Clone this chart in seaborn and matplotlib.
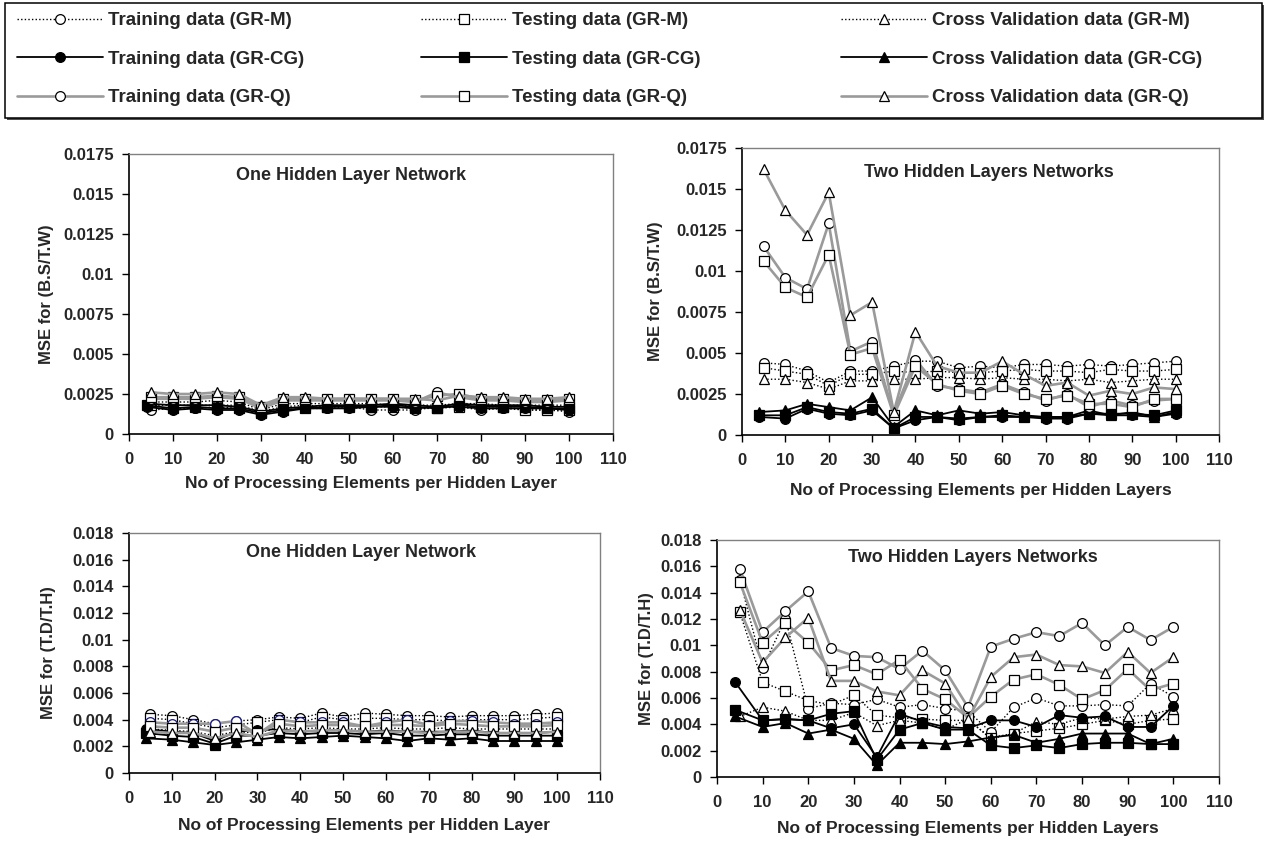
import numpy as np
import pandas as pd
import matplotlib
matplotlib.use("Agg")
import matplotlib.pyplot as plt
from matplotlib.lines import Line2D
from matplotlib.patches import Rectangle
from matplotlib.ticker import FuncFormatter
import seaborn as sns

sns.set_theme(style="white")
plt.rcParams['font.family'] = ['Liberation Sans', 'DejaVu Sans']
plt.rcParams['font.weight'] = 'bold'

# ---------------- data ----------------
x_pe = [5, 10, 15, 20, 25, 30, 35, 40, 45, 50, 55, 60, 65, 70, 75, 80, 85, 90, 95, 100]
x_cg = [4, 10, 15, 20, 25, 30, 35, 40, 45, 50, 55, 60, 65, 70, 75, 80, 85, 90, 95, 100]

series_labels = [
    "Training data (GR-M)", "Testing data (GR-M)", "Cross Validation data (GR-M)",
    "Training data (GR-CG)", "Testing data (GR-CG)", "Cross Validation data (GR-CG)",
    "Training data (GR-Q)", "Testing data (GR-Q)", "Cross Validation data (GR-Q)",
]

# Panel A: one hidden layer, B.S/T.W
a_m_train = [0.0015,0.0016,0.0016,0.0017,0.0016,0.0013,0.0015,0.0016,0.0016,0.0017,0.0015,0.0015,0.0015,0.0017,0.0017,0.0015,0.0016,0.0015,0.0015,0.0014]
a_m_test  = [0.0018,0.0018,0.0018,0.0018,0.0018,0.0014,0.0017,0.0018,0.0017,0.0018,0.0017,0.0017,0.0016,0.0016,0.0017,0.0017,0.0017,0.0015,0.0015,0.0015]
a_m_cv    = [0.0020,0.0020,0.0020,0.0021,0.0020,0.0015,0.0019,0.0019,0.0019,0.0019,0.0019,0.0018,0.0018,0.0018,0.0019,0.0019,0.0018,0.0018,0.0018,0.0018]
a_cg_train= [0.0017,0.0015,0.0016,0.0015,0.0015,0.0012,0.0014,0.0016,0.0016,0.0016,0.0017,0.0017,0.0016,0.0017,0.0017,0.0016,0.0016,0.0016,0.0016,0.0015]
a_cg_test = [0.0018,0.0016,0.0017,0.0016,0.0016,0.0013,0.0015,0.0016,0.0017,0.0017,0.0017,0.0018,0.0017,0.0016,0.0018,0.0017,0.0017,0.0017,0.0016,0.0016]
a_cg_cv   = [0.0019,0.0018,0.0018,0.0018,0.0017,0.0014,0.0016,0.0017,0.0018,0.0018,0.0018,0.0019,0.0018,0.0017,0.0019,0.0018,0.0018,0.0018,0.0017,0.0017]
a_q_train = [0.0022,0.0022,0.0022,0.0023,0.0022,0.0016,0.0021,0.0021,0.0021,0.0021,0.0021,0.0021,0.0020,0.0026,0.0023,0.0021,0.0021,0.0020,0.0020,0.0021]
a_q_test  = [0.0023,0.0023,0.0023,0.0024,0.0023,0.0017,0.0022,0.0022,0.0022,0.0022,0.0022,0.0022,0.0021,0.0024,0.0025,0.0022,0.0022,0.0021,0.0021,0.0022]
a_q_cv    = [0.0026,0.0025,0.0025,0.0026,0.0025,0.0018,0.0023,0.0023,0.0022,0.0022,0.0022,0.0022,0.0022,0.0021,0.0024,0.0023,0.0023,0.0022,0.0022,0.0023]

# Panel B: two hidden layers, B.S/T.W
b_m_train = [0.0044,0.0043,0.0039,0.0032,0.0039,0.0039,0.0042,0.0045,0.0045,0.0041,0.0042,0.0041,0.0043,0.0043,0.0042,0.0043,0.0042,0.0043,0.0044,0.0045]
b_m_test  = [0.0041,0.0039,0.0037,0.0030,0.0037,0.0037,0.0039,0.0038,0.0039,0.0038,0.0038,0.0039,0.0040,0.0039,0.0039,0.0038,0.0040,0.0039,0.0039,0.0040]
b_m_cv    = [0.0034,0.0034,0.0032,0.0028,0.0033,0.0033,0.0034,0.0034,0.0035,0.0035,0.0034,0.0035,0.0034,0.0034,0.0033,0.0034,0.0032,0.0033,0.0034,0.0034]
b_cg_train= [0.0011,0.0010,0.0016,0.0013,0.0012,0.0015,0.0004,0.0009,0.0011,0.0009,0.0011,0.0011,0.0011,0.0010,0.0010,0.0013,0.0012,0.0012,0.0011,0.0013]
b_cg_test = [0.0012,0.0012,0.0017,0.0014,0.0013,0.0016,0.0004,0.0011,0.0011,0.0010,0.0011,0.0012,0.0011,0.0011,0.0011,0.0013,0.0013,0.0013,0.0012,0.0015]
b_cg_cv   = [0.0014,0.0015,0.0019,0.0017,0.0015,0.0023,0.0005,0.0015,0.0012,0.0015,0.0013,0.0014,0.0012,0.0011,0.0011,0.0015,0.0012,0.0014,0.0011,0.0014]
b_q_train = [0.0115,0.0096,0.0089,0.0129,0.0051,0.0057,0.0013,0.0046,0.0030,0.0028,0.0026,0.0031,0.0026,0.0021,0.0025,0.0017,0.0021,0.0018,0.0021,0.0022]
b_q_test  = [0.0106,0.0090,0.0084,0.0110,0.0049,0.0053,0.0012,0.0042,0.0031,0.0027,0.0025,0.0030,0.0025,0.0022,0.0024,0.0019,0.0019,0.0017,0.0022,0.0022]
b_q_cv    = [0.0162,0.0137,0.0122,0.0148,0.0073,0.0081,0.0014,0.0063,0.0042,0.0038,0.0038,0.0045,0.0037,0.0030,0.0032,0.0024,0.0027,0.0025,0.0029,0.0028]

# Panel C: one hidden layer, T.D/T.H
c_m_train = [0.0044,0.0043,0.0040,0.0037,0.0039,0.0040,0.0042,0.0041,0.0045,0.0042,0.0045,0.0044,0.0043,0.0043,0.0042,0.0043,0.0043,0.0043,0.0044,0.0045]
c_m_test  = [0.0041,0.0040,0.0037,0.0034,0.0036,0.0038,0.0040,0.0038,0.0042,0.0040,0.0041,0.0041,0.0040,0.0040,0.0039,0.0040,0.0040,0.0040,0.0041,0.0042]
c_m_cv    = [0.0033,0.0032,0.0031,0.0028,0.0031,0.0030,0.0034,0.0033,0.0034,0.0033,0.0033,0.0034,0.0033,0.0033,0.0034,0.0033,0.0033,0.0033,0.0033,0.0033]
c_cg_train= [0.0033,0.0031,0.0030,0.0024,0.0031,0.0032,0.0033,0.0031,0.0032,0.0032,0.0031,0.0032,0.0031,0.0031,0.0031,0.0032,0.0030,0.0030,0.0030,0.0031]
c_cg_test = [0.0030,0.0028,0.0027,0.0022,0.0028,0.0028,0.0030,0.0029,0.0030,0.0030,0.0029,0.0030,0.0028,0.0028,0.0029,0.0029,0.0028,0.0028,0.0028,0.0028]
c_cg_cv   = [0.0026,0.0025,0.0023,0.0021,0.0023,0.0025,0.0027,0.0026,0.0027,0.0028,0.0027,0.0026,0.0024,0.0026,0.0025,0.0026,0.0024,0.0024,0.0024,0.0024]
c_q_train = [0.0038,0.0037,0.0037,0.0037,0.0039,0.0029,0.0040,0.0038,0.0038,0.0038,0.0035,0.0038,0.0040,0.0036,0.0039,0.0039,0.0038,0.0037,0.0037,0.0038]
c_q_test  = [0.0035,0.0034,0.0034,0.0031,0.0034,0.0030,0.0037,0.0035,0.0036,0.0036,0.0035,0.0036,0.0036,0.0035,0.0037,0.0036,0.0035,0.0035,0.0035,0.0036]
c_q_cv    = [0.0031,0.0030,0.0030,0.0026,0.0030,0.0027,0.0032,0.0031,0.0032,0.0032,0.0031,0.0031,0.0031,0.0030,0.0031,0.0031,0.0030,0.0030,0.0030,0.0031]

# Panel D: two hidden layers, T.D/T.H
d_m_train = [0.0150,0.0083,0.0120,0.0052,0.0056,0.0055,0.0059,0.0053,0.0055,0.0052,0.0050,0.0034,0.0053,0.0060,0.0054,0.0054,0.0055,0.0054,0.0071,0.0061]
d_m_test  = [0.0125,0.0072,0.0065,0.0058,0.0055,0.0062,0.0047,0.0045,0.0044,0.0043,0.0043,0.0030,0.0033,0.0035,0.0037,0.0040,0.0043,0.0040,0.0043,0.0044]
d_m_cv    = [0.0046,0.0053,0.0050,0.0043,0.0043,0.0049,0.0039,0.0043,0.0041,0.0036,0.0044,0.0029,0.0033,0.0042,0.0040,0.0045,0.0044,0.0046,0.0047,0.0052]
d_cg_train= [0.0072,0.0043,0.0044,0.0043,0.0037,0.0040,0.0015,0.0048,0.0042,0.0038,0.0037,0.0043,0.0043,0.0038,0.0047,0.0045,0.0046,0.0038,0.0038,0.0054]
d_cg_test = [0.0051,0.0043,0.0044,0.0043,0.0048,0.0050,0.0013,0.0036,0.0041,0.0036,0.0036,0.0024,0.0022,0.0024,0.0022,0.0025,0.0026,0.0026,0.0025,0.0025]
d_cg_cv   = [0.0046,0.0038,0.0041,0.0033,0.0036,0.0029,0.0009,0.0026,0.0026,0.0025,0.0027,0.0030,0.0032,0.0026,0.0029,0.0033,0.0033,0.0033,0.0025,0.0029]
d_q_train = [0.0158,0.0110,0.0126,0.0141,0.0098,0.0092,0.0091,0.0082,0.0096,0.0081,0.0053,0.0099,0.0105,0.0110,0.0107,0.0117,0.0100,0.0114,0.0104,0.0114]
d_q_test  = [0.0148,0.0102,0.0117,0.0102,0.0081,0.0085,0.0078,0.0089,0.0067,0.0059,0.0045,0.0061,0.0074,0.0078,0.0070,0.0059,0.0066,0.0082,0.0066,0.0071]
d_q_cv    = [0.0127,0.0087,0.0106,0.0121,0.0073,0.0073,0.0065,0.0062,0.0081,0.0071,0.0044,0.0076,0.0091,0.0093,0.0085,0.0084,0.0079,0.0095,0.0079,0.0091]

panel_titles = ["One Hidden Layer Network", "Two Hidden Layers Networks",
                "One Hidden Layer Network", "Two Hidden Layers Networks"]
panel_xlabels = ["No of Processing Elements per Hidden Layer", "No of Processing Elements per Hidden Layers",
                 "No of Processing Elements per Hidden Layer", "No of Processing Elements per Hidden Layers"]
panel_ylabels = ["MSE for (B.S/T.W)", "MSE for (B.S/T.W)", "MSE for (T.D/T.H)", "MSE for (T.D/T.H)"]
x_ticks = [0, 10, 20, 30, 40, 50, 60, 70, 80, 90, 100, 110]
y_ticks_top = [0, 0.0025, 0.005, 0.0075, 0.01, 0.0125, 0.015, 0.0175]
y_ticks_bottom = [0, 0.002, 0.004, 0.006, 0.008, 0.01, 0.012, 0.014, 0.016, 0.018]

panel_data = [
    [a_m_train, a_m_test, a_m_cv, a_cg_train, a_cg_test, a_cg_cv, a_q_train, a_q_test, a_q_cv],
    [b_m_train, b_m_test, b_m_cv, b_cg_train, b_cg_test, b_cg_cv, b_q_train, b_q_test, b_q_cv],
    [c_m_train, c_m_test, c_m_cv, c_cg_train, c_cg_test, c_cg_cv, c_q_train, c_q_test, c_q_cv],
    [d_m_train, d_m_test, d_m_cv, d_cg_train, d_cg_test, d_cg_cv, d_q_train, d_q_test, d_q_cv],
]

# ---------------- styles ----------------
MS = 7
GRAY = "#9a9a9a"
markers = ["o", "s", "^"]
def style_for(i):
    group, kind = divmod(i, 3)
    m = markers[kind]
    ms = MS + (0.8 if m == "^" else 0)
    if group == 0:   # GR-M
        return dict(color="black", linestyle=(0, (1, 1.6)), linewidth=1.0, marker=m,
                    markersize=ms, markerfacecolor="white", markeredgecolor="black",
                    markeredgewidth=0.9)
    if group == 1:   # GR-CG
        return dict(color="black", linestyle="-", linewidth=1.3, marker=m,
                    markersize=ms, markerfacecolor="black", markeredgecolor="black",
                    markeredgewidth=0.9)
    return dict(color=GRAY, linestyle="-", linewidth=1.9, marker=m,
                markersize=ms, markerfacecolor="white", markeredgecolor="black",
                markeredgewidth=0.9)

# ---------------- figure ----------------
W, H = 1267, 852
fig = plt.figure(figsize=(W / 100, H / 100), dpi=100)
fig.patch.set_facecolor("white")

def px_axes(l, t, r, b):
    return fig.add_axes([l / W, 1 - b / H, (r - l) / W, (b - t) / H])

axes = [
    px_axes(129, 154, 613, 434),
    px_axes(742, 148, 1219, 435),
    px_axes(129, 533, 600, 773),
    px_axes(717, 540, 1219, 777),
]
title_pos = [(0.458, 0.925), (0.518, 0.916), (0.493, 0.917), (0.51, 0.928)]
xlabel_pos = [-0.150, -0.167, -0.187, -0.186]
ylabel_pos = [-0.155, -0.166, -0.155, -0.125]

fmt = FuncFormatter(lambda v, p: "0" if abs(v) < 1e-12 else ("%g" % round(v, 6)))

for k, ax in enumerate(axes):
    ax.set_facecolor("white")
    data = panel_data[k]
    for i, yv in enumerate(data):
        xs = x_cg if (i // 3 == 1) else x_pe
        st = style_for(i)
        if k == 2 and i == 6:
            st["markeredgecolor"] = "#1a1a8c"
        df = pd.DataFrame({"x": xs, "y": yv})
        sns.lineplot(data=df, x="x", y="y", ax=ax, estimator=None, sort=False,
                     legend=False, **st)
    ax.set_xlim(0, 110)
    ax.set_xticks(x_ticks)
    if k < 2:
        ax.set_ylim(0, 0.0175)
        ax.set_yticks(y_ticks_top)
    else:
        ax.set_ylim(0, 0.018)
        ax.set_yticks(y_ticks_bottom)
    ax.yaxis.set_major_formatter(fmt)
    ax.tick_params(axis="x", direction="out", length=5, width=1, color="black",
                   labelsize=12, pad=8, bottom=True)
    ax.tick_params(axis="y", direction="out", length=5, width=1, color="black",
                   labelsize=12, pad=6, left=True)
    for lab in ax.get_xticklabels() + ax.get_yticklabels():
        lab.set_fontweight("bold")
    for s in ["left", "bottom"]:
        ax.spines[s].set_color("black")
        ax.spines[s].set_linewidth(1.2)
    for s in ["top", "right"]:
        ax.spines[s].set_color("#808080")
        ax.spines[s].set_linewidth(1.0)
    ax.set_xlabel(panel_xlabels[k], fontsize=12.5, fontweight="bold", va="top")
    ax.xaxis.set_label_coords(0.5, xlabel_pos[k])
    ax.set_ylabel(panel_ylabels[k], fontsize=12, fontweight="bold")
    ax.yaxis.set_label_coords(ylabel_pos[k], 0.5)
    ax.text(title_pos[k][0], title_pos[k][1], panel_titles[k], transform=ax.transAxes,
            ha="center", va="center", fontsize=13, fontweight="bold")
    ax.grid(False)

# ---------------- legend (three columns, one frame with shadow) ----------------
fig.add_artist(Rectangle((7 / W, 1 - 120 / H), 1257 / W, 115 / H, transform=fig.transFigure,
                         facecolor="#505050", edgecolor="none", zorder=1))
fig.add_artist(Rectangle((5 / W, 1 - 118 / H), 1257 / W, 115 / H, transform=fig.transFigure,
                         facecolor="white", edgecolor="black", linewidth=1.1, zorder=2))
handles = [Line2D([0], [0], **style_for(i)) for i in range(9)]
col_left_px = [17, 421, 841]
for c in range(3):
    idx = [c, c + 3, c + 6]
    lg = fig.legend([handles[i] for i in idx], [series_labels[i] for i in idx],
                    loc="upper left", bbox_to_anchor=(col_left_px[c] / W, 1 - 12 / H),
                    frameon=False, borderaxespad=0, borderpad=0, handlelength=4.6,
                    handletextpad=0.25, labelspacing=1.14, numpoints=1,
                    prop={"size": 13.5, "weight": "bold"})
    lg.set_zorder(5)

fig.savefig("out.png", dpi=100, facecolor="white")
